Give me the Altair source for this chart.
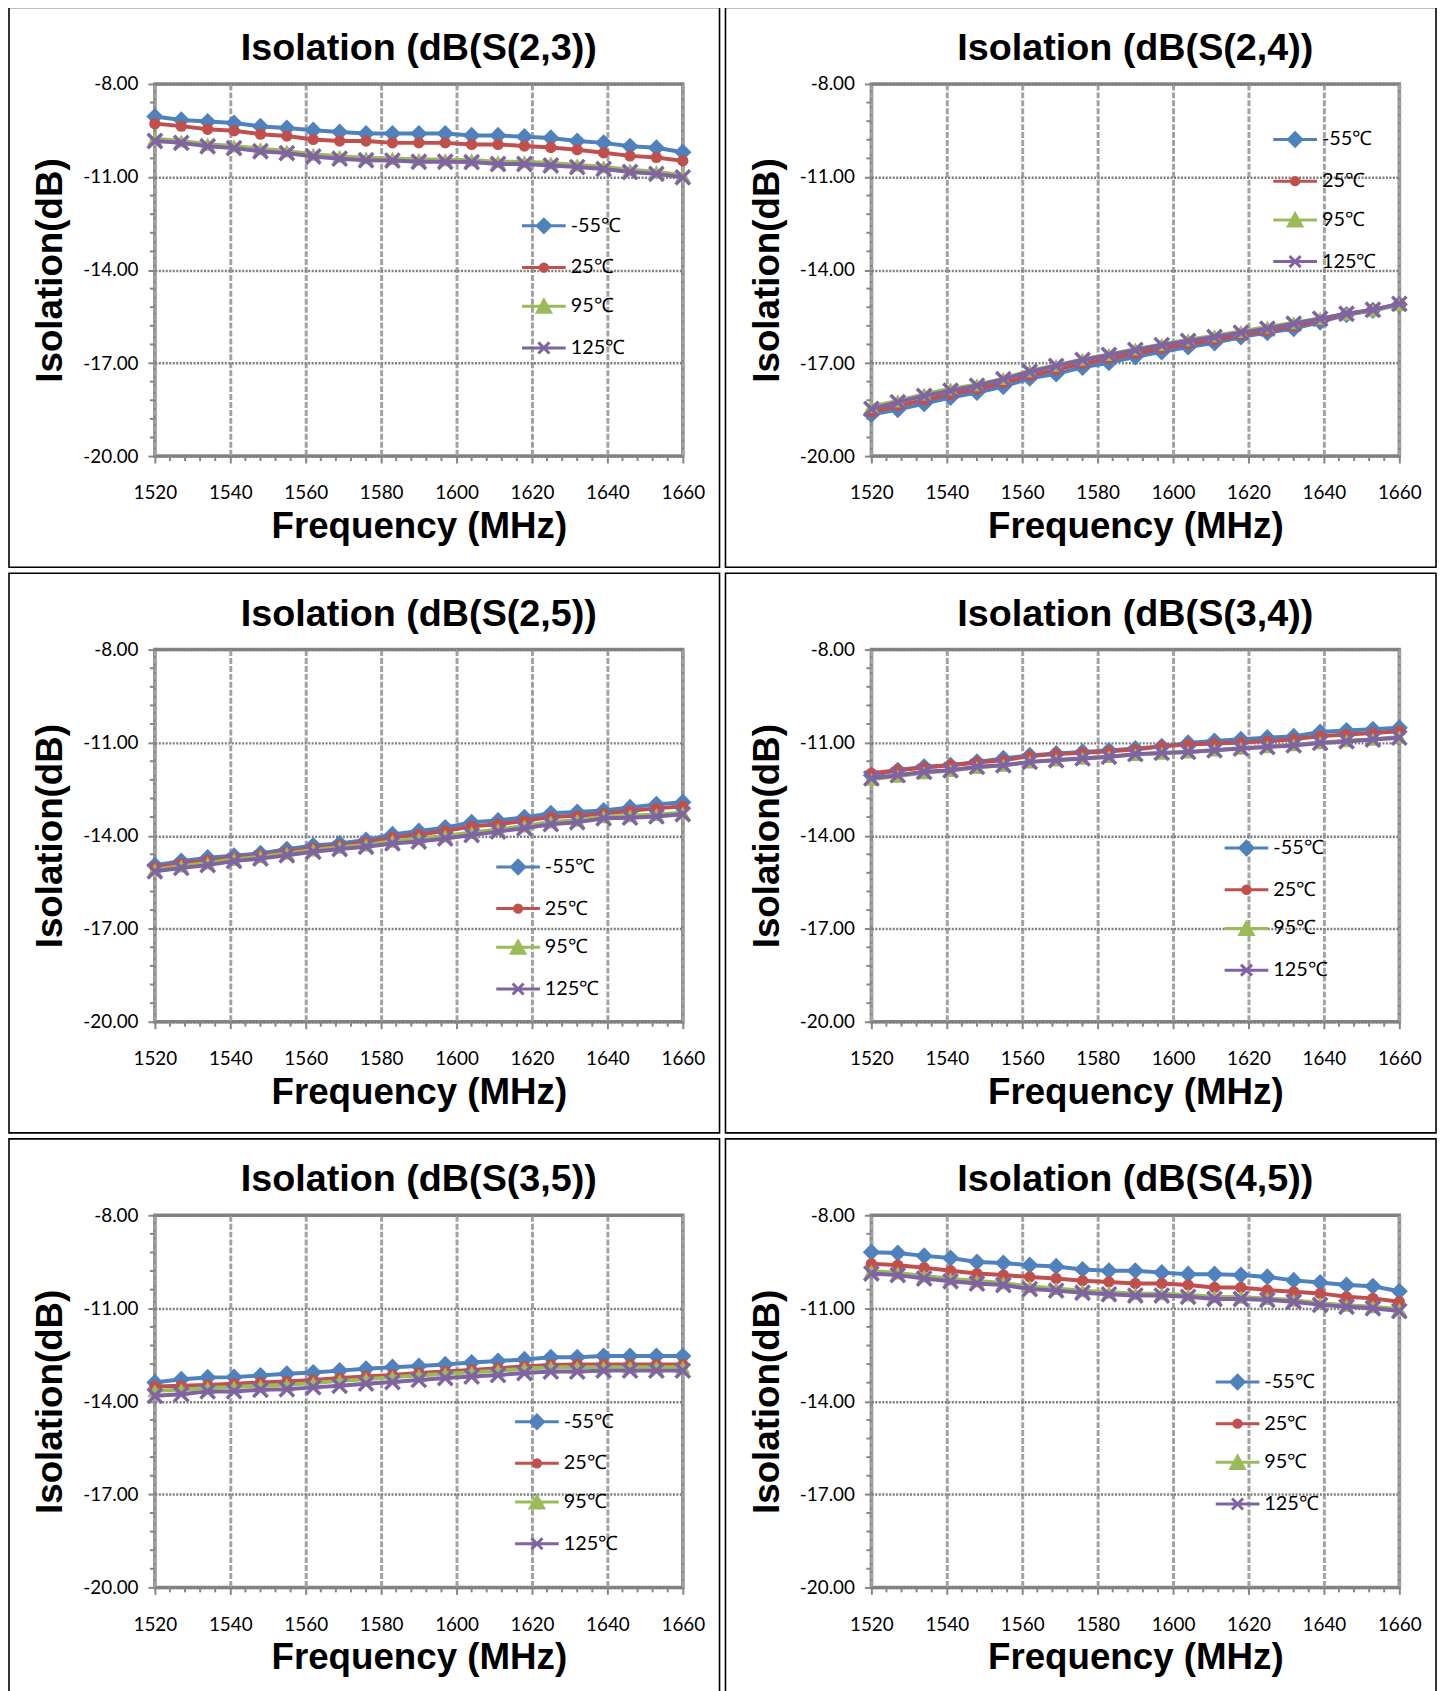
import altair as alt
import pandas as pd

FREQ = [1520, 1527, 1534, 1541, 1548, 1555, 1562, 1569, 1576, 1583, 1590,
        1597, 1604, 1611, 1618, 1625, 1632, 1639, 1646, 1653, 1660]
SERIES = ["-55℃", "25℃", "95℃", "125℃"]
COLORS = ["#4F81BD", "#C0504D", "#9BBB59", "#8064A2"]
TITLES = ["Isolation (dB(S(2,3))", "Isolation (dB(S(2,4))", "Isolation (dB(S(2,5))",
          "Isolation (dB(S(3,4))", "Isolation (dB(S(3,5))", "Isolation (dB(S(4,5))"]

X_TICKS = [1520, 1540, 1560, 1580, 1600, 1620, 1640, 1660]
Y_TICKS = [-20, -17, -14, -11, -8]
X_MINOR = [1524, 1528, 1532, 1536, 1544, 1548, 1552, 1556, 1564, 1568, 1572, 1576,
           1584, 1588, 1592, 1596, 1604, 1608, 1612, 1616, 1624, 1628, 1632, 1636,
           1644, 1648, 1652, 1656]
Y_MINOR = [-19.4, -18.8, -18.2, -17.6, -16.4, -15.8, -15.2, -14.6, -13.4, -12.8,
           -12.2, -11.6, -10.4, -9.8, -9.2, -8.6]

# S(2,3)
S23_M55 = [-9.05, -9.16, -9.21, -9.26, -9.37, -9.42, -9.49, -9.55, -9.60, -9.60, -9.60,
           -9.60, -9.66, -9.66, -9.70, -9.74, -9.84, -9.90, -10.01, -10.06, -10.20]
S23_P25 = [-9.28, -9.36, -9.46, -9.51, -9.62, -9.68, -9.79, -9.84, -9.84, -9.90, -9.90,
           -9.90, -9.95, -9.95, -10.00, -10.05, -10.12, -10.22, -10.32, -10.37, -10.48]
S23_P95 = [-9.77, -9.84, -9.94, -10.00, -10.09, -10.16, -10.27, -10.33, -10.38, -10.40, -10.43,
           -10.44, -10.45, -10.51, -10.51, -10.55, -10.61, -10.67, -10.77, -10.83, -10.94]
S23_P125 = [-9.84, -9.90, -10.01, -10.07, -10.17, -10.23, -10.34, -10.41, -10.46, -10.47, -10.51,
            -10.51, -10.52, -10.58, -10.58, -10.63, -10.68, -10.74, -10.84, -10.90, -11.01]
# S(2,4)
S24_M55 = [-18.66, -18.50, -18.31, -18.11, -17.95, -17.76, -17.49, -17.35, -17.14, -16.99, -16.80,
           -16.64, -16.48, -16.35, -16.16, -16.02, -15.89, -15.68, -15.44, -15.30, -15.11]
S24_P25 = [-18.58, -18.38, -18.19, -18.00, -17.84, -17.64, -17.40, -17.22, -17.02, -16.86, -16.69,
           -16.53, -16.38, -16.26, -16.09, -15.96, -15.81, -15.63, -15.43, -15.29, -15.10]
S24_P95 = [-18.40, -18.22, -18.00, -17.83, -17.70, -17.50, -17.25, -17.07, -16.88, -16.72, -16.55,
           -16.40, -16.25, -16.12, -15.98, -15.84, -15.70, -15.56, -15.42, -15.30, -15.12]
S24_P125 = [-18.48, -18.26, -18.06, -17.89, -17.73, -17.52, -17.28, -17.09, -16.90, -16.74, -16.58,
            -16.42, -16.29, -16.16, -16.02, -15.89, -15.73, -15.57, -15.41, -15.28, -15.09]
# S(2,5)
S25_M55 = [-14.95, -14.82, -14.71, -14.65, -14.57, -14.44, -14.32, -14.25, -14.14, -13.96, -13.85,
           -13.74, -13.57, -13.51, -13.41, -13.28, -13.24, -13.19, -13.09, -12.99, -12.92]
S25_P25 = [-15.02, -14.90, -14.80, -14.72, -14.64, -14.52, -14.40, -14.32, -14.22, -14.06, -13.96,
           -13.85, -13.70, -13.63, -13.52, -13.40, -13.36, -13.29, -13.20, -13.12, -13.05]
S25_P95 = [-15.10, -14.98, -14.88, -14.77, -14.68, -14.57, -14.46, -14.37, -14.30, -14.18, -14.10,
           -14.01, -13.90, -13.80, -13.69, -13.56, -13.50, -13.39, -13.36, -13.32, -13.26]
S25_P125 = [-15.15, -15.04, -14.95, -14.82, -14.74, -14.63, -14.52, -14.43, -14.36, -14.25, -14.19,
            -14.09, -13.98, -13.87, -13.76, -13.63, -13.57, -13.44, -13.42, -13.38, -13.31]
# S(3,4)
S34_M55 = [-12.05, -11.89, -11.78, -11.73, -11.62, -11.51, -11.41, -11.35, -11.30, -11.25, -11.19,
           -11.12, -11.01, -10.95, -10.89, -10.84, -10.80, -10.66, -10.61, -10.57, -10.52]
S34_P25 = [-11.99, -11.89, -11.80, -11.73, -11.64, -11.57, -11.43, -11.37, -11.33, -11.28, -11.22,
           -11.12, -11.06, -11.03, -11.00, -10.95, -10.89, -10.79, -10.74, -10.69, -10.63]
S34_P95 = [-12.18, -12.08, -11.97, -11.90, -11.80, -11.73, -11.62, -11.56, -11.50, -11.45, -11.38,
           -11.34, -11.30, -11.24, -11.18, -11.13, -11.07, -11.00, -10.94, -10.89, -10.82]
S34_P125 = [-12.15, -12.05, -11.94, -11.89, -11.78, -11.73, -11.62, -11.57, -11.51, -11.46, -11.37,
            -11.33, -11.30, -11.25, -11.19, -11.14, -11.09, -11.01, -10.96, -10.90, -10.84]
# S(3,5)
S35_M55 = [-13.39, -13.29, -13.23, -13.22, -13.17, -13.11, -13.07, -13.01, -12.95, -12.90, -12.86,
           -12.81, -12.75, -12.70, -12.65, -12.58, -12.58, -12.54, -12.54, -12.54, -12.54]
S35_P25 = [-13.52, -13.50, -13.47, -13.43, -13.39, -13.36, -13.31, -13.25, -13.20, -13.15, -13.09,
           -13.04, -12.99, -12.93, -12.88, -12.83, -12.81, -12.81, -12.81, -12.81, -12.81]
S35_P95 = [-13.66, -13.63, -13.57, -13.54, -13.50, -13.47, -13.41, -13.34, -13.29, -13.22, -13.17,
           -13.11, -13.06, -13.01, -12.95, -12.90, -12.90, -12.90, -12.90, -12.90, -12.90]
S35_P125 = [-13.82, -13.77, -13.68, -13.68, -13.63, -13.61, -13.55, -13.50, -13.43, -13.38, -13.31,
            -13.25, -13.20, -13.15, -13.09, -13.04, -13.04, -13.01, -13.01, -13.01, -13.01]
# S(4,5)
S45_M55 = [-9.19, -9.22, -9.31, -9.38, -9.51, -9.54, -9.61, -9.65, -9.75, -9.79, -9.79,
           -9.85, -9.90, -9.90, -9.93, -9.99, -10.10, -10.17, -10.25, -10.29, -10.45]
S45_P25 = [-9.56, -9.61, -9.69, -9.79, -9.88, -9.93, -9.99, -10.04, -10.11, -10.15, -10.20,
           -10.20, -10.25, -10.33, -10.33, -10.41, -10.47, -10.52, -10.63, -10.68, -10.79]
S45_P95 = [-9.80, -9.86, -9.96, -10.05, -10.12, -10.18, -10.30, -10.36, -10.43, -10.48, -10.52,
           -10.53, -10.57, -10.63, -10.64, -10.68, -10.74, -10.84, -10.90, -10.95, -11.03]
S45_P125 = [-9.88, -9.93, -10.04, -10.13, -10.20, -10.25, -10.38, -10.43, -10.50, -10.55, -10.59,
            -10.59, -10.63, -10.70, -10.70, -10.73, -10.79, -10.89, -10.95, -11.00, -11.09]

PANEL_DATA = [
    [S23_M55, S23_P25, S23_P95, S23_P125],
    [S24_M55, S24_P25, S24_P95, S24_P125],
    [S25_M55, S25_P25, S25_P95, S25_P125],
    [S34_M55, S34_P25, S34_P95, S34_P125],
    [S35_M55, S35_P25, S35_P95, S35_P125],
    [S45_M55, S45_P25, S45_P95, S45_P125],
]
# legend placement (pixels inside each plot area)
LEGEND_POS = [(372, 123), (407, 36), (346, 199), (358, 180), (365, 188), (349, 148)]

PW, PH = 532, 375
GRID_X = "#a3a3a3"
GRID_Y = "#7d7d7d"
FRAME = "#868686"
LABEL_FONT = "Lato"
TITLE_FONT = "Liberation Sans"

MARKERS = [
    dict(shape="diamond", filled=True, size=300),
    dict(shape="circle", filled=True, size=130),
    dict(shape="triangle-up", filled=True, size=230),
    dict(shape="M-1,-1L1,1M-1,1L1,-1", filled=False, size=210, strokeWidth=3.5),
]
LEG_PATHS = [
    "M-1.19,0H1.19M0,-0.36L0.36,0L0,0.36L-0.36,0Z",
    "M-1.19,0H1.19M-0.2,0A0.2,0.2,0,1,0,0.2,0A0.2,0.2,0,1,0,-0.2,0Z",
    "M-1.19,0H1.19M0,-0.33L0.36,0.33L-0.36,0.33Z",
    "M-1.19,0H1.19M-0.3,-0.3L0.3,0.3M-0.3,0.3L0.3,-0.3",
]

x_scale = alt.Scale(domain=[1520, 1660], nice=False, zero=False)
y_scale = alt.Scale(domain=[-20, -8], nice=False, zero=False)

x_axis = alt.Axis(values=X_TICKS, format="d", title="Frequency (MHz)",
                  titleFont=TITLE_FONT, titleFontSize=37, titleFontWeight="bold",
                  titleColor="black", titleX=PW / 2, titleY=71, titleBaseline="middle",
                  titleAlign="center",
                  labelFont=LABEL_FONT, labelFontSize=19, labelColor="black",
                  labelPadding=21, labelFlush=False, labelOverlap=False,
                  tickSize=7, tickColor=FRAME, tickWidth=2, domain=False,
                  grid=True, gridColor=GRID_X, gridDash=[6, 2], gridWidth=3)
y_axis = alt.Axis(values=Y_TICKS,
                  labelExpr="replace(format(datum.value, '.2f'), '\u2212', '-')",
                  title="Isolation(dB)", titleFont=TITLE_FONT, titleFontSize=37,
                  titleFontWeight="bold", titleColor="black", titleX=-105, titleY=PH / 2,
                  titleBaseline="middle", titleAlign="center", titleAngle=270,
                  labelFont=LABEL_FONT, labelFontSize=19, labelColor="black",
                  labelPadding=10, labelOverlap=False, labelFlush=False,
                  tickSize=7, tickColor=FRAME, tickWidth=2, domain=False,
                  grid=True, gridColor=GRID_Y, gridDash=[2, 1.5], gridWidth=2.5)

one = pd.DataFrame({"k": [0]})


def make_panel(title, values, lpos):
    rows = []
    for s, vals in zip(SERIES, values):
        for f, v in zip(FREQ, vals):
            rows.append({"freq": f, "val": v, "series": s})
    df = pd.DataFrame(rows)
    base = alt.Chart(df)
    X = alt.X("freq:Q", scale=x_scale, axis=x_axis)
    Y = alt.Y("val:Q", scale=y_scale, axis=y_axis)

    border = alt.Chart(one).mark_rect(filled=False, stroke="black", strokeWidth=1.6).encode(
        x=alt.value(-147), x2=alt.value(569), y=alt.value(-77), y2=alt.value(487))
    head = alt.Chart(one).mark_text(text=title, font=TITLE_FONT, fontSize=38, fontWeight="bold",
                                    color="black", align="center", baseline="middle").encode(
        x=alt.value(PW / 2), y=alt.value(-35))
    yminor = alt.Chart(pd.DataFrame({"val": Y_MINOR})).mark_rule(color=FRAME, strokeWidth=2).encode(
        y=Y, x=alt.value(-5), x2=alt.value(0))
    xminor = alt.Chart(pd.DataFrame({"freq": X_MINOR})).mark_rule(color=FRAME, strokeWidth=2).encode(
        x=X, y=alt.value(PH), y2=alt.value(PH + 5))

    layers = [border, head, yminor, xminor]
    for s, c, spec in zip(SERIES, COLORS, MARKERS):
        sub = base.transform_filter(alt.datum.series == s)
        layers.append(sub.mark_line(color=c, strokeWidth=4).encode(x=X, y=Y))
        layers.append(sub.mark_point(color=c, opacity=1, **spec).encode(x=X, y=Y))

    leg = alt.Legend(title=None, orient="none", legendX=lpos[0], legendY=lpos[1],
                     symbolSize=1369, symbolStrokeWidth=3, symbolOpacity=1,
                     labelFont=LABEL_FONT, labelFontSize=20, labelColor="black",
                     labelOffset=7, rowPadding=9, padding=0)
    legend_layer = base.transform_filter("false").mark_point(filled=True, opacity=1, strokeWidth=3).encode(
        x=X, y=Y,
        shape=alt.Shape("series:N", scale=alt.Scale(domain=SERIES, range=LEG_PATHS), legend=leg),
        fill=alt.Fill("series:N", scale=alt.Scale(domain=SERIES, range=COLORS), legend=leg),
        stroke=alt.Stroke("series:N", scale=alt.Scale(domain=SERIES, range=COLORS), legend=leg),
    )
    layers.append(legend_layer)
    return alt.layer(*layers).properties(width=PW, height=PH)


panels = [make_panel(t, v, p) for t, v, p in zip(TITLES, PANEL_DATA, LEGEND_POS)]

chart = alt.concat(*panels, columns=2, spacing=0).resolve_scale(
    fill="independent", stroke="independent", shape="independent"
).resolve_legend(
    fill="independent", stroke="independent", shape="independent"
).properties(
    padding={"top": -10, "left": -2, "right": 0, "bottom": 0}
).configure(background="white").configure_view(stroke=FRAME, strokeWidth=3.5)

chart.save("out.html", embed_options={"renderer": "svg", "actions": False})
